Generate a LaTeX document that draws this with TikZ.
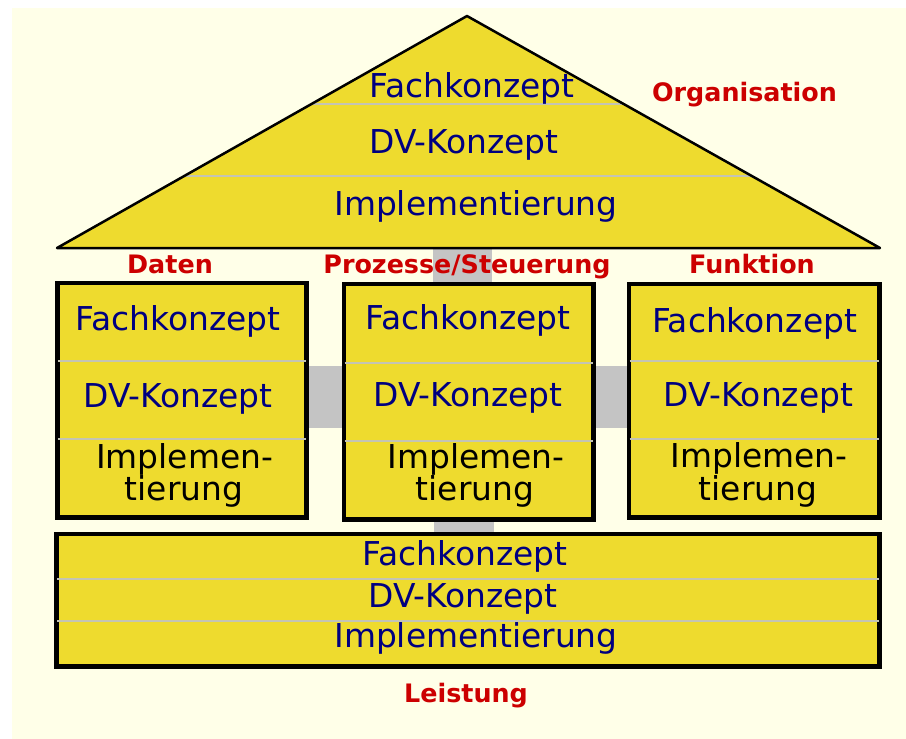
\documentclass[tikz,border=0pt]{standalone}
\usepackage{fontspec}
\setmainfont{DejaVu Sans}
\definecolor{cream}{RGB}{255,255,232}
\definecolor{boxyellow}{RGB}{238,219,46}
\definecolor{conngray}{RGB}{196,196,196}
\definecolor{divgray}{RGB}{196,196,180}
\definecolor{navytext}{RGB}{0,0,128}
\definecolor{lblred}{RGB}{204,0,0}
\tikzset{
  layerbox/.style={rectangle, draw=black, line width=3bp, fill=boxyellow, inner sep=0pt},
  divider/.style={draw=divgray, line width=2bp},
  connbar/.style={draw=conngray},
  bluetext/.style={text=navytext, font=\fontsize{33}{36}\selectfont, anchor=base, inner sep=0pt},
  blacktext/.style={text=black, font=\fontsize{33}{36}\selectfont, anchor=base, inner sep=0pt},
  viewlabel/.style={text=lblred, font=\bfseries\fontsize{25.5}{30}\selectfont, anchor=base, inner sep=0pt},
}
\begin{document}
\begin{tikzpicture}[x=1bp,y=-1bp]
\useasboundingbox (0,0) rectangle (906,739);
\fill[white] (0,0) rectangle (906,739);
\fill[cream] (12,8) rectangle (906,739);

% roof geometry
\coordinate (roofL) at (57,248);
\coordinate (roofR) at (880,248);
\coordinate (apex) at (467,16);
\coordinate (topconn) at (462.5,248);
\coordinate (botconn) at (463.5,520);

% box centres
\path (182,400) coordinate (datenC) (468.5,401.5) coordinate (prozC) (754,400.5) coordinate (funkC) (468,600) coordinate (leistC);

% boxes
\node[layerbox, minimum width=247bp, minimum height=233bp] (daten) at (datenC) {};
\node[layerbox, minimum width=248bp, minimum height=234bp] (prozesse) at (prozC) {};
\node[layerbox, minimum width=249bp, minimum height=232bp] (funktion) at (funkC) {};
\node[layerbox, minimum width=821bp, minimum height=131bp] (leistung) at (leistC) {};

% gray connectors
\draw[connbar, line width=59bp] (topconn) -- (topconn |- prozesse.north);
\draw[connbar, line width=60bp] (botconn |- prozesse.south) -- (botconn |- leistung.north);
\draw[connbar, line width=62bp] (daten.east |- 0,397) -- (prozesse.west |- 0,397);
\draw[connbar, line width=62bp] (prozesse.east |- 0,397) -- (funktion.west |- 0,397);

% redraw box borders above connectors
\draw[black, line width=3bp] (daten.south west) rectangle (daten.north east);
\draw[black, line width=3bp] (prozesse.south west) rectangle (prozesse.north east);
\draw[black, line width=3bp] (funktion.south west) rectangle (funktion.north east);
\draw[black, line width=3bp] (leistung.south west) rectangle (leistung.north east);

% dividers in boxes
\foreach \b/\ya/\yb in {daten/361/439, prozesse/363/441, funktion/361/439, leistung/579/621}{
  \draw[divider, shorten <=1.5bp, shorten >=1.5bp] (\b.west |- 0,\ya) -- (\b.east |- 0,\ya);
  \draw[divider, shorten <=1.5bp, shorten >=1.5bp] (\b.west |- 0,\yb) -- (\b.east |- 0,\yb);
}

% roof
\fill[boxyellow] (roofL) -- (apex) -- (roofR) -- cycle;
\begin{scope}
  \clip (roofL) -- (apex) -- (roofR) -- cycle;
  \draw[divider] (0,104) -- (906,104);
  \draw[divider] (0,176) -- (906,176);
\end{scope}
\draw[black, line width=2.5bp, line join=round] (roofL) -- (apex) -- (roofR) -- cycle;

% roof texts
\node[bluetext] (rFach) at (472,97) {Fachkonzept};
\node[bluetext] (rDV) at (464,153) {DV-Konzept};
\node[bluetext] (rImpl) at (476,215) {Implementierung};

% box texts
\node[bluetext] (dFach) at (178,330) {Fachkonzept};
\node[bluetext] (dDV) at (178,407) {DV-Konzept};
\node[blacktext] (dImpl1) at (184.5,468) {Implemen-};
\node[blacktext] (dImpl2) at (184,500) {tierung};

\node[bluetext] (pFach) at (468,329) {Fachkonzept};
\node[bluetext] (pDV) at (468,406) {DV-Konzept};
\node[blacktext] (pImpl1) at (476,468) {Implemen-};
\node[blacktext] (pImpl2) at (475,500) {tierung};

\node[bluetext] (fFach) at (754.5,332) {Fachkonzept};
\node[bluetext] (fDV) at (758.5,406) {DV-Konzept};
\node[blacktext] (fImpl1) at (759,467) {Implemen-};
\node[blacktext] (fImpl2) at (758,500) {tierung};

\node[bluetext] (lFach) at (465,565) {Fachkonzept};
\node[bluetext] (lDV) at (463,607) {DV-Konzept};
\node[bluetext] (lImpl) at (476,647) {Implementierung};

% view labels
\node[viewlabel] (orgLbl) at (744.5,101) {Organisation};
\node[viewlabel] (datLbl) at (170,273) {Daten};
\node[viewlabel] (proLbl) at (467,273) {Prozesse/Steuerung};
\node[viewlabel] (funLbl) at (752,273) {Funktion};
\node[viewlabel] (leiLbl) at (466,702) {Leistung};
\end{tikzpicture}
\end{document}
